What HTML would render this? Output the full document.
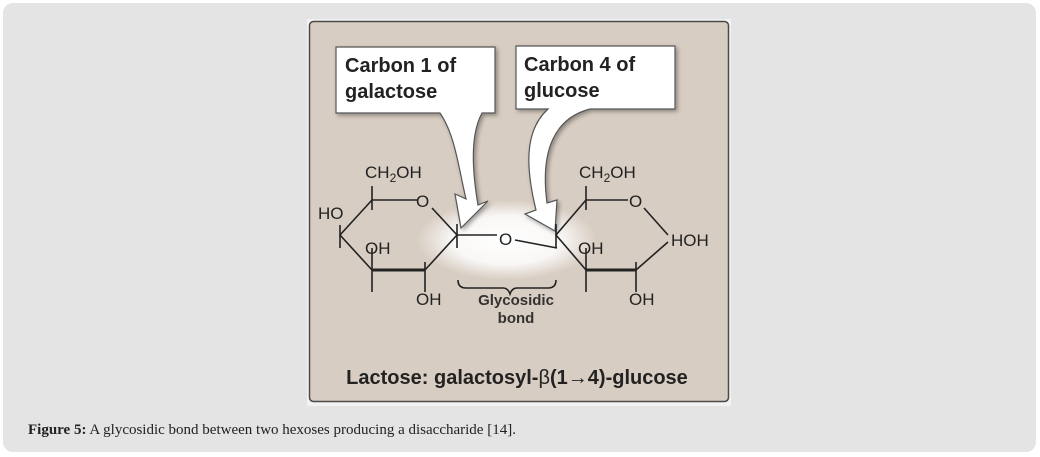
<!DOCTYPE html>
<html><head><style>
html,body{margin:0;padding:0;background:#fff;}
.wrap{position:absolute;left:3px;top:3px;width:1033px;height:449px;background:#e4e4e4;border-radius:10px;}
.cap{position:absolute;left:28px;top:422px;font-family:"Liberation Serif",serif;font-size:15px;color:#222;}
svg{position:absolute;left:0;top:0;}
</style></head><body>
<div class="wrap"></div>
<svg width="1040" height="457" viewBox="0 0 1040 457" font-family="Liberation Sans, sans-serif">
<defs>
<radialGradient id="glow" cx="0.5" cy="0.5" r="0.5">
<stop offset="0" stop-color="#fff" stop-opacity="1"/>
<stop offset="0.6" stop-color="#fff" stop-opacity="0.85"/>
<stop offset="1" stop-color="#fff" stop-opacity="0"/>
</radialGradient>
<filter id="sh" x="-10%" y="-10%" width="130%" height="130%"><feDropShadow dx="2" dy="2" stdDeviation="2" flood-color="#000" flood-opacity="0.35"/></filter>
</defs>
<rect x="307" y="19" width="424" height="387" fill="#f2f2f2"/>
<rect x="309.5" y="21.5" width="419" height="380" rx="4" fill="#d8cdc2" stroke="#4a4a4a" stroke-width="1.5"/>
<ellipse cx="507" cy="240" rx="90" ry="40" fill="url(#glow)"/>
<g filter="url(#sh)" fill="#fff" stroke="#555" stroke-width="1.2">
<path d="M336,47 H495 V113 H482 C470,135 472,170 478,205 L488,201 L461,228 L455,194 L466,199 C458,165 455,135 440,113 H336 Z"/>
<path d="M516,46 H675 V109 H590 C555,118 540,150 547,203 L557,200 L555,231 L525,214 L536,210 C525,165 525,130 548,109 H516 Z"/>
</g>
<g font-weight="bold" font-size="20" fill="#222">
<text x="345" y="72">Carbon 1 of</text>
<text x="345" y="98">galactose</text>
<text x="524" y="71">Carbon 4 of</text>
<text x="524" y="97">glucose</text>
</g>
<g stroke="#222" stroke-width="1.6" fill="none">
<path d="M372,200 H417 M432,208 L457,235 L425,270 M372,270 L340,235 L372,200"/>
<path d="M372,270 H425" stroke-width="3"/>
<path d="M372,186 V210 M340,225 V248 M372,262 V292 M425,262 V292 M457,224 V248 M372,248 V262"/>
<path d="M457,235 L497,235 M515,240 L557,248"/>
<path d="M586,200 H628 M644,208 L668,235 M668,242 L636,270 M586,270 L556,235 L586,200"/>
<path d="M586,270 H636" stroke-width="3"/>
<path d="M586,186 V210 M556,224 V248 M586,262 V292 M636,262 V292 M586,248 V262"/>
<path d="M458,280 q0,8 8,8 H503 q5,0 7,6 q2,-6 7,-6 H548 q8,0 8,-8"/>
</g>
<g font-size="17" fill="#222">
<text x="365" y="178">CH<tspan font-size="12" dy="4">2</tspan><tspan dy="-4">OH</tspan></text>
<text x="416" y="207">O</text>
<text x="318" y="219">HO</text>
<text x="365" y="254">OH</text>
<text x="416" y="305">OH</text>
<text x="499" y="245">O</text>
<text x="579" y="178">CH<tspan font-size="12" dy="4">2</tspan><tspan dy="-4">OH</tspan></text>
<text x="629" y="207">O</text>
<text x="671" y="246">HOH</text>
<text x="578" y="254">OH</text>
<text x="629" y="305">OH</text>
</g>
<g font-weight="bold" font-size="15" fill="#333" text-anchor="middle">
<text x="516" y="305">Glycosidic</text>
<text x="516" y="323">bond</text>
</g>
<text x="517" y="384" text-anchor="middle" font-weight="bold" font-size="20" fill="#222">Lactose: galactosyl-<tspan font-weight="normal">β</tspan>(1<tspan font-weight="normal">→</tspan>4)-glucose</text>
</svg>
<div class="cap"><b>Figure 5:</b> A glycosidic bond between two hexoses producing a disaccharide [14].</div>
</body></html>
